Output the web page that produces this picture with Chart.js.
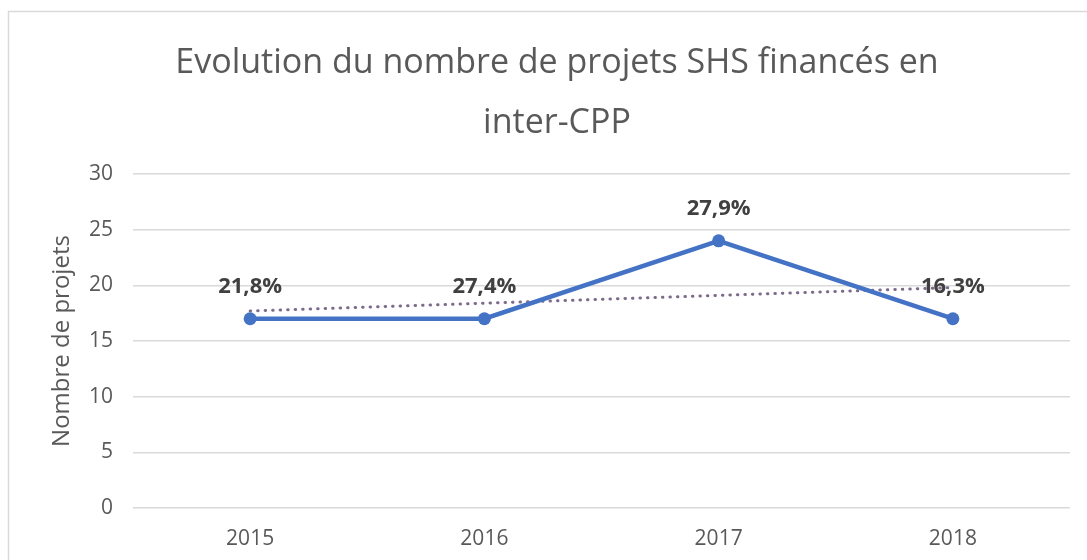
<!DOCTYPE html>
<html>
<head>
<meta charset="utf-8">
<script src="https://cdn.jsdelivr.net/npm/chart.js@4/dist/chart.umd.min.js"></script>
<style>
    html, body { margin: 0; padding: 0; background: #ffffff; }
    #wrap { position: relative; width: 1087px; height: 560px; }
</style>
</head>
<body>
<div id="wrap"><canvas id="projetsChart" width="1087" height="560"></canvas></div>
<script>
const years = ['2015', '2016', '2017', '2018'];
const projets = [17, 17, 24, 17];
const tendance = [17.7, 18.4, 19.1, 19.8];
const pourcentages = ['21,8%', '27,4%', '27,9%', '16,3%'];
const titleLines = ['Evolution du nombre de projets SHS financés en', 'inter-CPP'];

const fontFamily = '"Open Sans", Lato, sans-serif';
const textColor = '#595959';

// white background + light frame like the source image
const frame = {
    id: 'frame',
    beforeDraw(chart) {
        const ctx = chart.ctx;
        ctx.save();
        ctx.fillStyle = '#ffffff';
        ctx.fillRect(0, 0, chart.width, chart.height);
        ctx.strokeStyle = '#d9d9d9';
        ctx.lineWidth = 1.5;
        ctx.strokeRect(8.5, 11.5, 1200, 700);
        ctx.restore();
    },
};

// percentage labels above each point
const pointLabels = {
    id: 'pointLabels',
    afterDatasetsDraw(chart) {
        const ctx = chart.ctx;
        const meta = chart.getDatasetMeta(0);
        ctx.save();
        ctx.font = 'bold 22px ' + fontFamily;
        ctx.fillStyle = '#404040';
        ctx.textAlign = 'center';
        ctx.textBaseline = 'middle';
        meta.data.forEach((pt, i) => {
            ctx.fillText(pourcentages[i], pt.x, pt.y - 32);
        });
        ctx.restore();
    },
};

new Chart(document.getElementById('projetsChart'), {
    type: 'line',
    data: {
        labels: years,
        datasets: [
            {
                label: 'Projets',
                data: projets,
                borderColor: '#4472c4',
                backgroundColor: '#4472c4',
                borderWidth: 4.5,
                pointRadius: 6.5,
                pointBackgroundColor: '#4472c4',
                pointBorderWidth: 0,
                tension: 0,
            },
            {
                label: 'Tendance',
                data: tendance,
                borderColor: '#7d6a8c',
                borderWidth: 3,
                borderDash: [0.5, 7],
                borderCapStyle: 'round',
                pointRadius: 0,
                fill: false,
            },
        ],
    },
    options: {
        responsive: false,
        animation: false,
        devicePixelRatio: 1,
        layout: {
            padding: { left: 44, right: 17, top: 0, bottom: 0 },
        },
        plugins: {
            legend: { display: false },
            tooltip: { enabled: false },
            title: {
                display: true,
                text: titleLines,
                color: textColor,
                font: { family: fontFamily, size: 34, weight: 'normal', lineHeight: '60px' },
                padding: { top: 33, bottom: 21 },
            },
        },
        scales: {
            x: {
                offset: true,
                grid: { display: false, drawTicks: false },
                border: { display: false },
                ticks: {
                    color: textColor,
                    padding: 18,
                    font: { family: fontFamily, size: 21 },
                },
                afterFit(scale) { scale.height = 52; },
            },
            y: {
                min: 0,
                max: 30,
                ticks: {
                    stepSize: 5,
                    color: textColor,
                    padding: 20,
                    font: { family: fontFamily, size: 21 },
                },
                grid: { color: '#d9d9d9', lineWidth: 1.5, drawTicks: false },
                border: { display: false },
                title: {
                    display: true,
                    text: 'Nombre de projets',
                    color: textColor,
                    font: { family: fontFamily, size: 24 },
                },
                afterFit(scale) { scale.width = 89; },
            },
        },
    },
    plugins: [frame, pointLabels],
});
</script>
</body>
</html>
